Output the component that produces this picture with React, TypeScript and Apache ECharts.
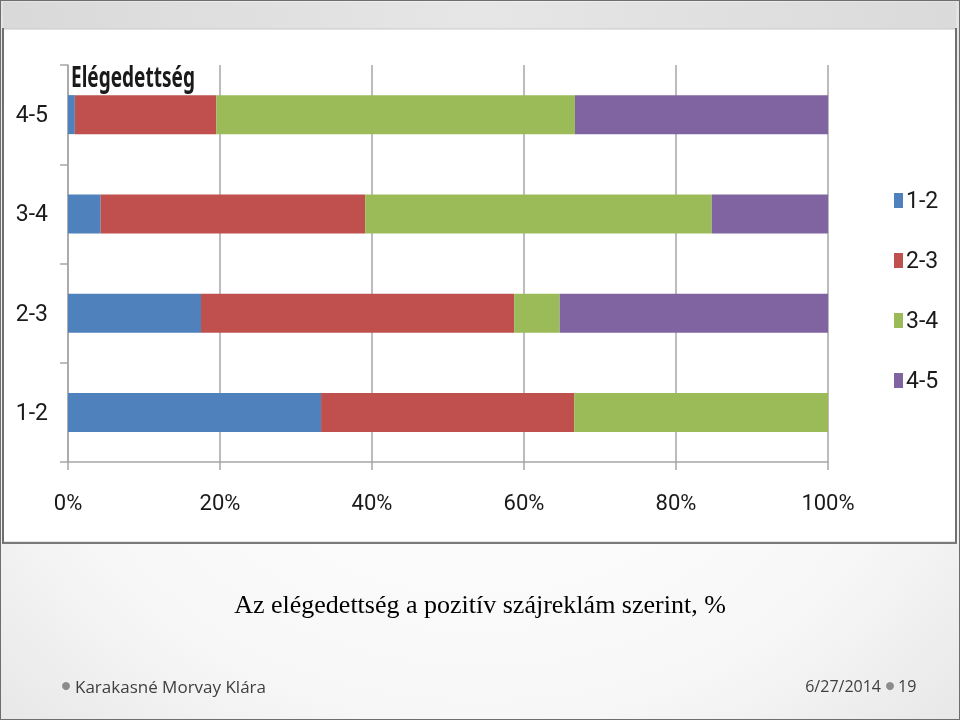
import React, { useEffect, useRef } from "react";
import * as echarts from "echarts";

const categories = ["1-2", "2-3", "3-4", "4-5"];
const seriesNames = ["1-2", "2-3", "3-4", "4-5"];
const s12 = [33.3, 17.5, 4.3, 0.9];
const s23 = [33.3, 41.2, 34.8, 18.6];
const s34 = [33.4, 6.0, 45.6, 47.2];
const s45 = [0, 35.3, 15.3, 33.3];
const seriesValues = [s12, s23, s34, s45];
const colors = ["#4f81bd", "#c0504d", "#9bbb59", "#8064a2"];
const xTicks = [0, 20, 40, 60, 80, 100];

const chartTitle = "Elégedettség";
const slideCaption = "Az elégedettség a pozitív szájreklám szerint, %";
const footerLeft = "Karakasné Morvay Klára";
const footerDate = "6/27/2014";
const footerPage = "19";

const NARROW = "Roboto, 'Noto Sans', sans-serif";

export default function App() {
  const ref = useRef<HTMLDivElement>(null);
  useEffect(() => {
    if (!ref.current) return;
    const chart = echarts.init(ref.current, null, { renderer: "svg" });
    const option: any = {
      animation: false,
      backgroundColor: "transparent",
      graphic: [
        {
          type: "rect",
          z: -10,
          silent: true,
          shape: { x: 0, y: 0, width: 960, height: 720 },
          style: {
            fill: new echarts.graphic.RadialGradient(0.5, 0.55, 0.75, [
              { offset: 0, color: "#ffffff" },
              { offset: 0.6, color: "#f7f7f7" },
              { offset: 1, color: "#e2e2e2" },
            ]),
            stroke: "#6e6e6e",
            lineWidth: 2,
          },
        },
        {
          type: "rect",
          z: -9,
          silent: true,
          shape: { x: 3, y: 2, width: 953, height: 27 },
          style: {
            fill: new echarts.graphic.LinearGradient(0, 0, 1, 0, [
              { offset: 0, color: "#d9d9d9" },
              { offset: 0.5, color: "#e6e6e6" },
              { offset: 1, color: "#dadada" },
            ]),
          },
        },
        {
          type: "rect",
          z: -8,
          silent: true,
          shape: { x: 3, y: 29, width: 953, height: 513 },
          style: { fill: "#ffffff", stroke: "#c8c8c8", lineWidth: 1 },
        },
        {
          type: "line",
          z: -7,
          silent: true,
          shape: { x1: 3, y1: 28, x2: 3, y2: 544 },
          style: { stroke: "#707070", lineWidth: 2 },
        },
        {
          type: "line",
          z: -7,
          silent: true,
          shape: { x1: 956, y1: 28, x2: 956, y2: 544 },
          style: { stroke: "#707070", lineWidth: 2 },
        },
        {
          type: "line",
          z: -7,
          silent: true,
          shape: { x1: 3, y1: 543, x2: 957, y2: 543 },
          style: { stroke: "#7a7a7a", lineWidth: 2 },
        },
        {
          type: "text",
          x: 71,
          y: 62,
          scaleX: 0.68,
          style: {
            text: chartTitle,
            font: "bold 28px 'Noto Sans', sans-serif",
            fill: "#1a1a1a",
          },
        },
        {
          type: "text",
          left: "center",
          top: 591,
          style: {
            text: slideCaption,
            font: "26px 'Liberation Serif', 'DejaVu Serif', serif",
            fill: "#000000",
          },
        },
        {
          type: "circle",
          shape: { cx: 66, cy: 686, r: 4 },
          style: { fill: "#8c8c8c" },
        },
        {
          type: "text",
          x: 75,
          y: 686,
          style: {
            text: footerLeft,
            font: "17px 'Open Sans', 'DejaVu Sans', sans-serif",
            fill: "#3f3f3f",
            textVerticalAlign: "middle",
          },
        },
        {
          type: "text",
          x: 881,
          y: 686,
          style: {
            text: footerDate,
            font: "16px 'Open Sans', 'DejaVu Sans', sans-serif",
            fill: "#3f3f3f",
            textAlign: "right",
            textVerticalAlign: "middle",
          },
        },
        {
          type: "circle",
          shape: { cx: 890, cy: 686, r: 4 },
          style: { fill: "#8c8c8c" },
        },
        {
          type: "text",
          x: 898,
          y: 686,
          style: {
            text: footerPage,
            font: "16px 'Open Sans', 'DejaVu Sans', sans-serif",
            fill: "#3f3f3f",
            textVerticalAlign: "middle",
          },
        },
      ],
      legend: {
        orient: "vertical",
        left: 889,
        top: 184,
        itemWidth: 9,
        itemHeight: 15,
        itemGap: 37,
        icon: "rect",
        data: seriesNames,
        textStyle: {
          fontFamily: NARROW,
          fontSize: 23,
          color: "#1a1a1a",
          padding: [0, 0, 0, -2],
        },
      },
      grid: { left: 68, right: 132, top: 65, height: 397 },
      xAxis: {
        type: "value",
        min: 0,
        max: 100,
        interval: 20,
        axisLine: { show: true, lineStyle: { color: "#a6a6a6", width: 1.5 } },
        axisTick: { show: true, length: 8, lineStyle: { color: "#a6a6a6", width: 1.5 } },
        splitLine: { show: true, lineStyle: { color: "#a6a6a6", width: 1.5 } },
        axisLabel: {
          margin: 29,
          fontFamily: NARROW,
          fontSize: 22,
          color: "#1a1a1a",
          formatter: (v: number) => (xTicks.includes(v) ? v + "%" : ""),
        },
      },
      yAxis: {
        type: "category",
        data: categories,
        axisLine: { show: true, lineStyle: { color: "#a6a6a6", width: 1.5 } },
        axisTick: { show: true, length: 8, lineStyle: { color: "#a6a6a6", width: 1.5 } },
        axisLabel: {
          margin: 20,
          fontFamily: NARROW,
          fontSize: 23,
          color: "#1a1a1a",
        },
      },
      series: seriesNames.map((name, i) => ({
        name,
        type: "bar",
        stack: "total",
        barWidth: 39,
        data: seriesValues[i],
        itemStyle: { color: colors[i] },
      })),
    };
    chart.setOption(option);
    return () => chart.dispose();
  }, []);
  return (
    <div
      ref={ref}
      style={{ position: "fixed", left: 0, top: 0, width: 960, height: 720 }}
    />
  );
}
